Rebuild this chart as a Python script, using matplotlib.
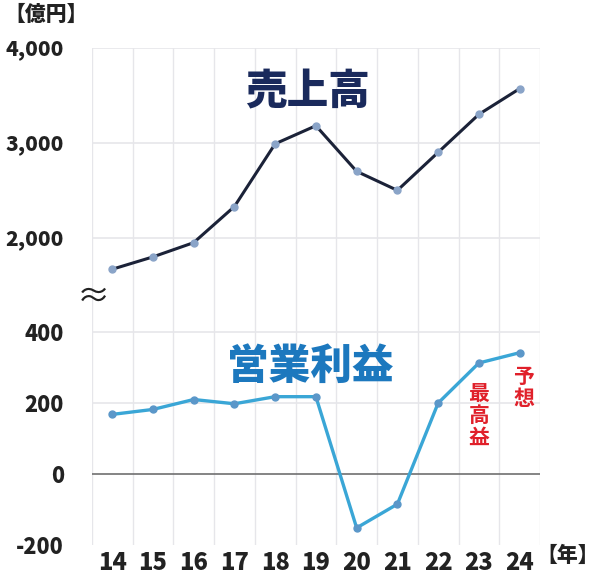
import matplotlib
matplotlib.use('Agg')
import matplotlib.pyplot as plt
import numpy as np

plt.rcParams['font.family'] = ['Noto Sans CJK JP', 'DejaVu Sans']

years = [14, 15, 16, 17, 18, 19, 20, 21, 22, 23, 24]
year_labels = ['14', '15', '16', '17', '18', '19', '20', '21', '22', '23', '24']
sales = [1670, 1800, 1950, 2330, 2990, 3180, 2700, 2500, 2900, 3300, 3570]
op_profit = [168, 182, 210, 198, 218, 218, -152, -85, 200, 313, 342]

sales_ticks = [2000, 3000, 4000]
sales_tick_labels = ['2,000', '3,000', '4,000']
profit_ticks = [-200, 0, 200, 400]
profit_tick_labels = ['-200', '0', '200', '400']

grid_c = '#e6e6ea'
fig = plt.figure(figsize=[6, 5.76], dpi=100)
ax1 = fig.add_axes([0.153, 0.488, 0.747, 0.429])
ax2 = fig.add_axes([0.153, 0.054, 0.747, 0.434])

for ax in (ax1, ax2):
    ax.set_xlim(13.5, 24.5)
    for s in ax.spines.values():
        s.set_visible(False)
    for xb in np.arange(13.5, 25, 1.0):
        ax.axvline(xb, color=grid_c, lw=1, zorder=0)
    ax.tick_params(length=0)

# sales (top)
ax1.set_ylim(1400, 4000)
for yv in sales_ticks:
    ax1.axhline(yv, color=grid_c, lw=1.2, zorder=0)
ax1.plot(years, sales, color='#1b2238', lw=2.2, marker='o', ms=5,
         mfc='#8aa4c8', mec='#8aa4c8', zorder=3)
ax1.set_yticks(sales_ticks)
ax1.set_yticklabels(sales_tick_labels, fontsize=15, fontweight='heavy', color='#222222')
ax1.tick_params(axis='y', pad=20)
ax1.set_xticks([])
ax1.text(18.8, 3530, '売上高', fontsize=30, fontweight='heavy', color='#1a2a5c',
         ha='center', va='center')

# operating profit (bottom)
ax2.set_ylim(-200, 505)
ax2.axhline(200, color=grid_c, lw=1.2, zorder=0)
ax2.axhline(400, color=grid_c, lw=1.2, zorder=0)
ax2.axhline(0, color='#707070', lw=1.2, zorder=1)
ax2.plot(years, op_profit, color='#3aa6d6', lw=2.4, marker='o', ms=5,
         mfc='#5b97c9', mec='#5b97c9', zorder=3)
ax2.set_yticks(profit_ticks)
ax2.set_yticklabels(profit_tick_labels, fontsize=15.5, fontweight='heavy', color='#222222')
ax2.tick_params(axis='y', pad=20)
ax2.set_xticks(years)
ax2.set_xticklabels(year_labels, fontsize=17, fontweight='heavy', color='#222222')
ax2.tick_params(axis='x', pad=4)
ax2.text(18.85, 302, '営業利益', fontsize=30, fontweight='heavy', color='#1c78be',
         ha='center', va='center')
ax2.text(23.0, 165, '最\n高\n益', fontsize=15, fontweight='bold', color='#e0202a',
         ha='center', va='center', linespacing=1.05)
ax2.text(24.1, 245, '予\n想', fontsize=15, fontweight='bold', color='#e0202a',
         ha='center', va='center', linespacing=1.05)

fig.text(0.008, 0.975, '【億円】', fontsize=15, fontweight='heavy', color='#222222',
         ha='left', va='center')
fig.text(0.998, 0.035, '【年】', fontsize=15, fontweight='heavy', color='#222222',
         ha='right', va='center')
fig.text(0.155, 0.484, '≈', fontsize=24, color='#222222', ha='center', va='center')

fig.savefig('out.png', dpi=100)
